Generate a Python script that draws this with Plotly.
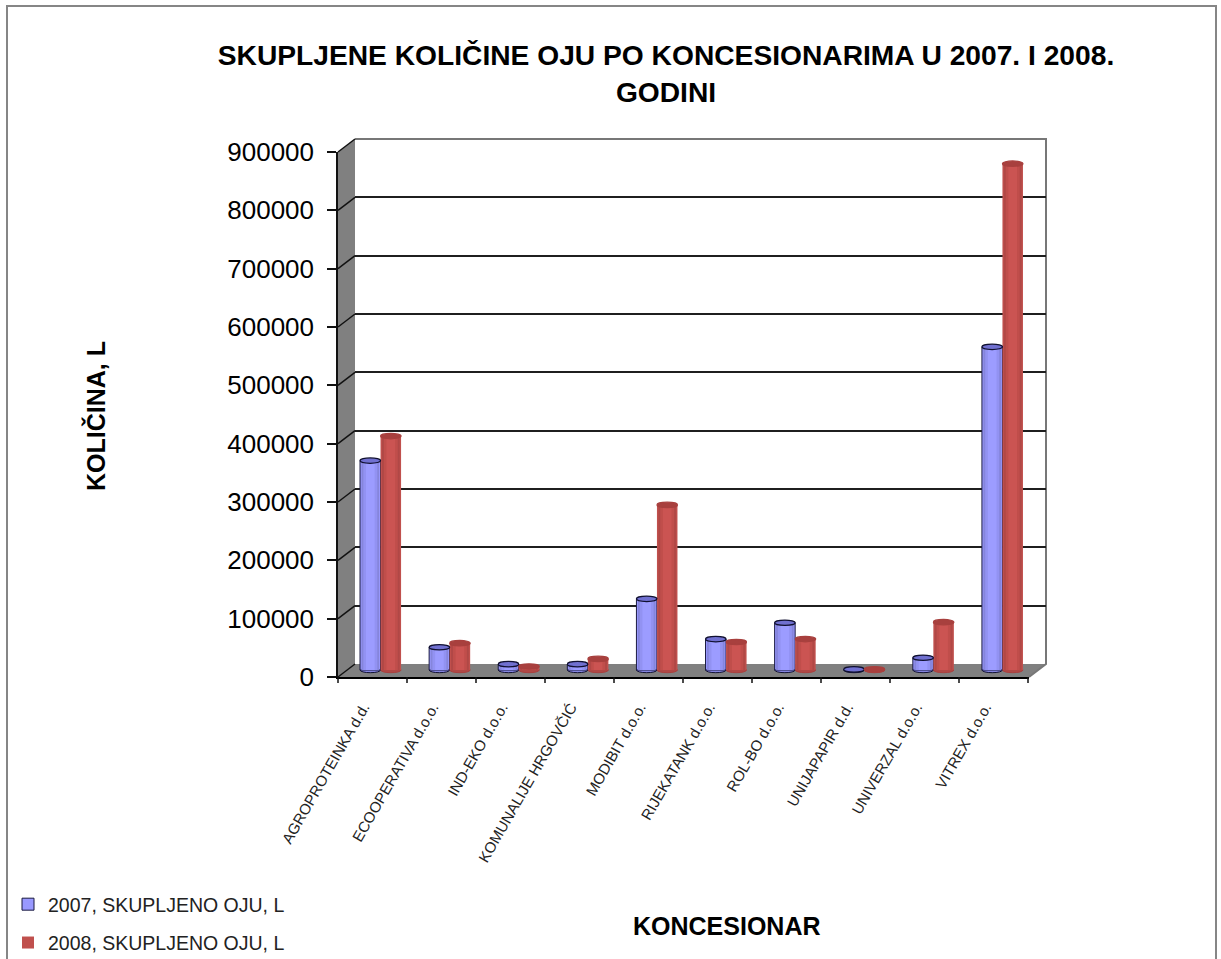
import plotly.graph_objects as go

categories = ["AGROPROTEINKA d.d.", "ECOOPERATIVA d.o.o.", "IND-EKO d.o.o.", "KOMUNALIJE HRGOVČIĆ",
              "MODIBIT d.o.o.", "RIJEKATANK d.o.o.", "ROL-BO d.o.o.", "UNIJAPAPIR d.d.",
              "UNIVERZAL d.o.o.", "VITREX d.o.o."]
values_2007 = [359000, 39000, 10000, 10000, 122000, 53000, 81000, 1000, 21000, 554000]
values_2008 = [401000, 46000, 6000, 19000, 283000, 48000, 53000, 1000, 82000, 868000]
name_2007 = "2007, SKUPLJENO OJU, L"
name_2008 = "2008, SKUPLJENO OJU, L"
y_ticks = [0, 100000, 200000, 300000, 400000, 500000, 600000, 700000, 800000, 900000]
title_text = "SKUPLJENE KOLIČINE OJU PO KONCESIONARIMA U 2007. I 2008.<br>GODINI"

W, H = 1221, 959
YMAX = 900000
FONT = "Liberation Sans"
px_x = lambda p: p / W
px_y = lambda p: 1 - p / H

BAR = 0.297
PX_PER_VAL = 525 / YMAX
CAT_PX = 69
LOW = -10000
BASE_PX = 670

blue_strips = [(1.0, "#6f6fb8"), (0.86, "#8585dc"), (0.68, "#9292f2"), (0.42, "#9c9cff")]
red_strips = [(1.0, "#9c403e"), (0.86, "#b04846"), (0.68, "#c04e4b"), (0.42, "#cb5452")]

fig = go.Figure()

# front axes (carry ticks and labels)
fig.add_trace(go.Scatter(x=categories, y=values_2007, mode="lines", opacity=0, showlegend=False,
                         hoverinfo="skip", xaxis="x", yaxis="y"))
# back wall axes (carry the gridlines)
fig.add_trace(go.Scatter(x=categories, y=values_2008, mode="lines", opacity=0, showlegend=False,
                         hoverinfo="skip", xaxis="x2", yaxis="y2"))


def add_series(vals, name, strips, side, outline):
    for k, (frac, col) in enumerate(strips):
        w = BAR * frac
        centre = side * BAR / 2
        fig.add_trace(go.Bar(
            x=categories, y=vals, name=name, width=w, offset=centre - w / 2,
            marker=dict(color=col if k else ("#9999ff" if outline else "#c0504d"),
                        line=dict(width=1 if (k == 0 and outline) else 0, color=outline or col)),
            showlegend=(k == 0), legendgroup=name, xaxis="x3", yaxis="y3",
            hovertemplate="%{x}: %{y}<extra>" + name + "</extra>"))


add_series(values_2007, name_2007, blue_strips, -1, "#1a1a40")
add_series(values_2008, name_2008, red_strips, 1, None)

shapes = []
# sheet frame
shapes.append(dict(type="path", xref="paper", yref="paper", layer="above",
                   path=f"M{px_x(7)},{px_y(959)} L{px_x(7)},{px_y(6)} L{px_x(1216)},{px_y(6)} L{px_x(1216)},{px_y(959)}",
                   line=dict(color="#868686", width=2)))
# left wall
shapes.append(dict(type="path", xref="paper", yref="paper", layer="below",
                   path=f"M{px_x(338)},{px_y(677)} L{px_x(355)},{px_y(664)} L{px_x(355)},{px_y(139)} L{px_x(338)},{px_y(152)} Z",
                   fillcolor="#808080", line=dict(width=0)))
# floor
shapes.append(dict(type="path", xref="paper", yref="paper", layer="below",
                   path=f"M{px_x(338)},{px_y(677)} L{px_x(355)},{px_y(664)} L{px_x(1046)},{px_y(664)} L{px_x(1029)},{px_y(677)} Z",
                   fillcolor="#808080", line=dict(width=0)))
# floor right slant and back wall frame
shapes.append(dict(type="path", xref="paper", yref="paper", layer="below",
                   path=f"M{px_x(1029)},{px_y(677)} L{px_x(1046)},{px_y(664)} L{px_x(1046)},{px_y(139)} L{px_x(355)},{px_y(139)}",
                   line=dict(color="#777777", width=2)))
# slanted links between front ticks and back gridlines
for t in y_ticks:
    yf = 677 - t * PX_PER_VAL
    shapes.append(dict(type="line", xref="paper", yref="paper", layer="above",
                       x0=px_x(338), x1=px_x(355), y0=px_y(yf), y1=px_y(yf - 13),
                       line=dict(color="#111111", width=1.5)))
for i in range(11):
    xf = 338 + i * CAT_PX
    shapes.append(dict(type="line", xref="paper", yref="paper", layer="above",
                       x0=px_x(xf), x1=px_x(xf), y0=px_y(677), y1=px_y(683),
                       line=dict(color="#111111", width=1.5)))

# cylinder ends, derived from the data
ELL_H = 2.7 / PX_PER_VAL
ELL_W = BAR / 2
for vals, side, top, line, body in [(values_2007, -1, "#7070d0", "#101030", "#8484e0"),
                                    (values_2008, 1, "#a8403e", "#a8403e", "#b04846")]:
    for i, v in enumerate(vals):
        c = i + side * BAR / 2
        shapes.append(dict(type="circle", xref="x3", yref="y3", layer="below",
                           x0=c - ELL_W, x1=c + ELL_W, y0=-ELL_H, y1=ELL_H,
                           fillcolor=body, line=dict(color=line, width=1)))
        shapes.append(dict(type="circle", xref="x3", yref="y3", layer="above",
                           x0=c - ELL_W, x1=c + ELL_W, y0=v - ELL_H, y1=v + ELL_H,
                           fillcolor=top, line=dict(color=line, width=1.2)))

fig.update_layout(
    width=W, height=H, margin=dict(l=0, r=0, t=0, b=0, autoexpand=False),
    paper_bgcolor="white", plot_bgcolor="rgba(0,0,0,0)",
    barmode="overlay", shapes=shapes,
    font=dict(family=FONT, color="#000000"),
    title=dict(text=title_text, x=666 / W, xanchor="center", y=px_y(65), yanchor="middle",
               font=dict(family=FONT, size=28.2, color="#000000", weight="bold")),
    xaxis=dict(domain=[px_x(338), px_x(1029)], anchor="y", type="category", categoryorder="array",
               categoryarray=categories, range=[-0.5, 9.5], showgrid=False, zeroline=False,
               showline=True, linecolor="#000000", linewidth=1.5, ticks="", tickson="boundaries",
               tickangle=-60, ticklabelstandoff=14, ticklabelshift=-9,
               tickfont=dict(size=15, color="#222222", family=FONT)),
    yaxis=dict(domain=[px_y(677), px_y(152)], anchor="x", range=[0, YMAX], tickvals=y_ticks,
               tickformat="d", showgrid=False, zeroline=False, showline=True,
               linecolor="#111111", linewidth=1.5,
               ticks="outside", ticklen=9, tickwidth=1.5, tickcolor="#111111",
               ticklabelstandoff=8, tickfont=dict(size=26, color="#000000", family=FONT)),
    xaxis2=dict(domain=[px_x(355), px_x(1046)], anchor="y2", type="category", categoryorder="array",
                categoryarray=categories, range=[-0.5, 9.5], visible=False),
    yaxis2=dict(domain=[px_y(664), px_y(139)], anchor="x2", range=[0, YMAX], tickvals=y_ticks,
                showgrid=True, gridcolor="#1f1f1f", gridwidth=2, zeroline=False,
                showline=False, showticklabels=False, ticks=""),
    xaxis3=dict(domain=[px_x(346), px_x(1037)], anchor="y3", type="category", categoryorder="array",
                categoryarray=categories, range=[-0.5, 9.5], visible=False),
    yaxis3=dict(domain=[px_y(BASE_PX - LOW * PX_PER_VAL), px_y(BASE_PX - 525)], anchor="x3",
                range=[LOW, YMAX], visible=False),
    legend=dict(x=px_x(8), xanchor="left", y=px_y(885), yanchor="top", bgcolor="rgba(0,0,0,0)",
                font=dict(size=19.5, color="#222222", family=FONT), tracegroupgap=10,
                itemwidth=30, borderwidth=0),
    annotations=[
        dict(text="<b>KOLIČINA, L</b>", xref="paper", yref="paper", x=px_x(95), y=px_y(416),
             xanchor="center", yanchor="middle",
             textangle=-90, showarrow=False, font=dict(size=25, family=FONT, color="#000000")),
        dict(text="<b>KONCESIONAR</b>", xref="paper", yref="paper", x=px_x(727), y=px_y(926),
             xanchor="center", yanchor="middle",
             showarrow=False, font=dict(size=25, family=FONT, color="#000000")),
    ],
)

fig.write_html("out.html", config={"displayModeBar": False},
               post_script="document.body.style.margin='0';document.body.style.overflow='hidden';")
